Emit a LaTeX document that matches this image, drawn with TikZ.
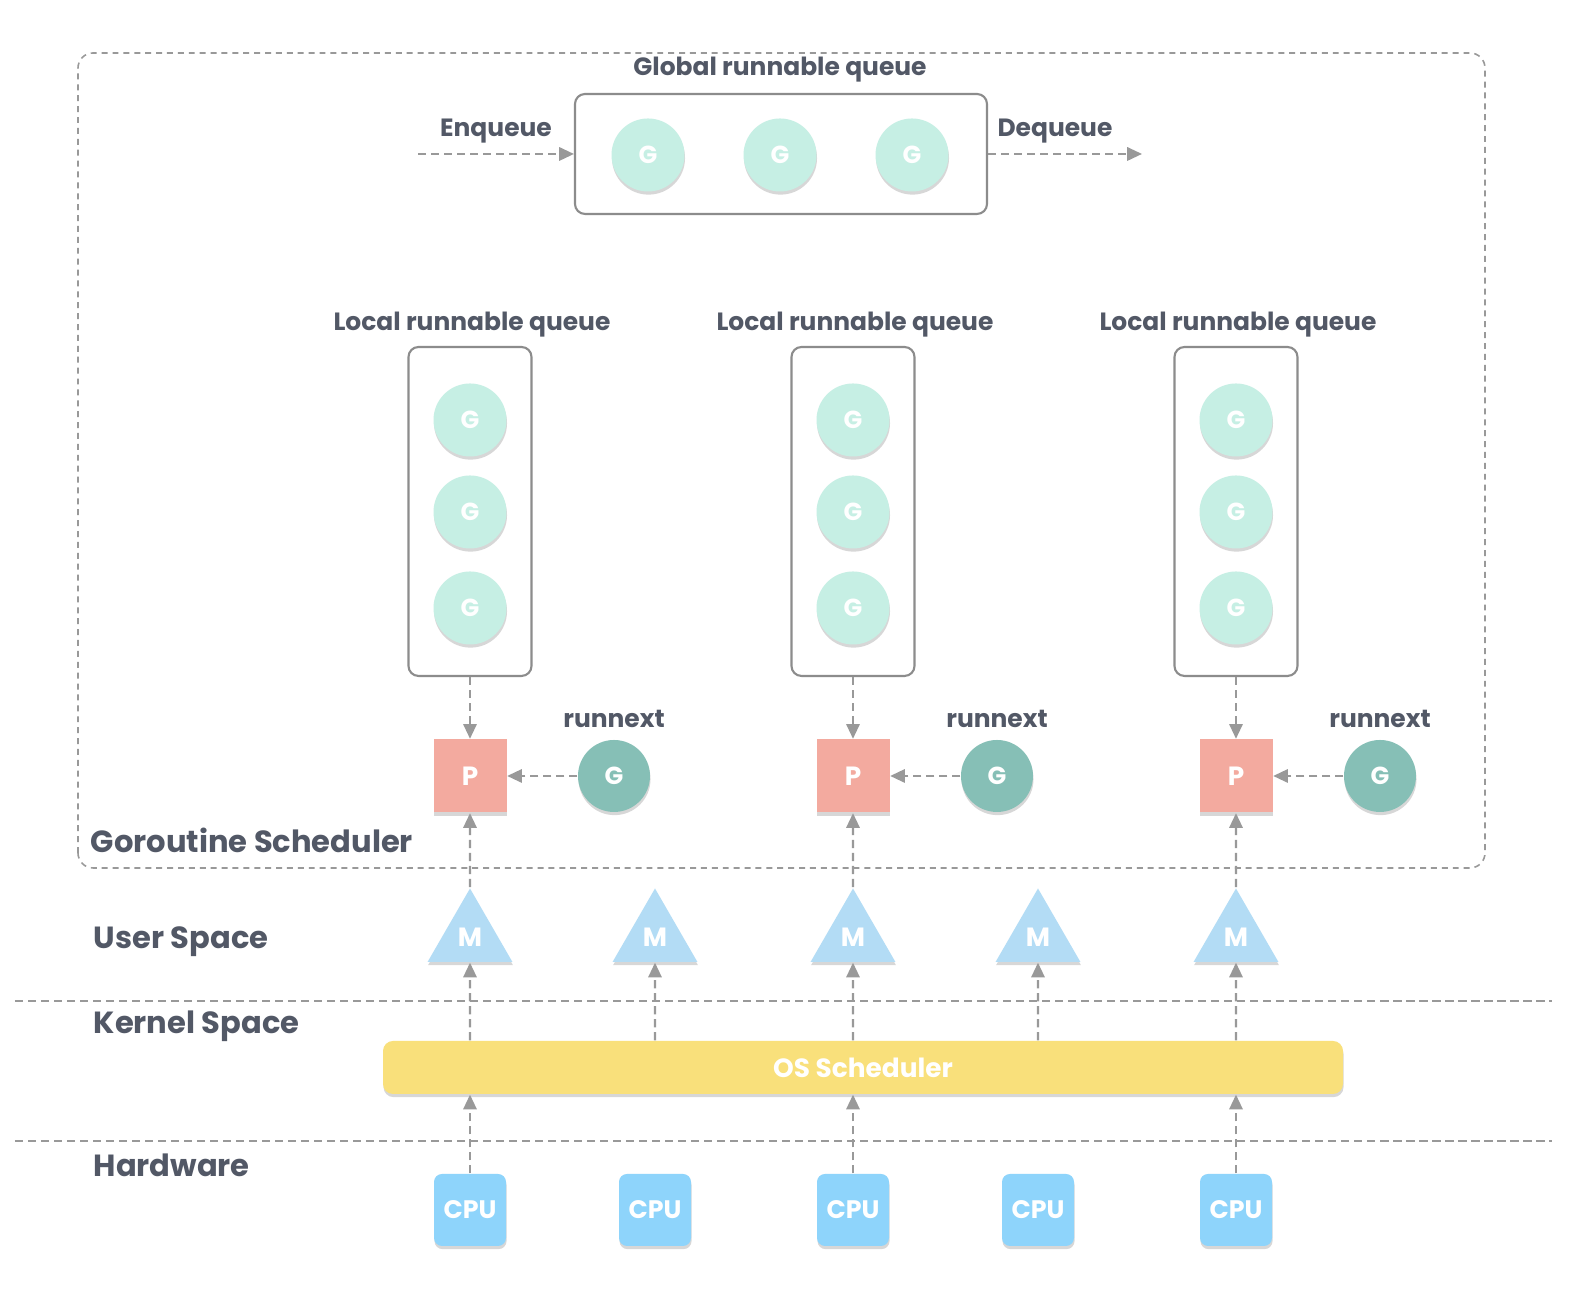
\documentclass[tikz,border=0pt]{standalone}
\usepackage{fontspec}
\setmainfont{Poppins}
\usetikzlibrary{arrows.meta,shapes.geometric,shadows}
\definecolor{txtgray}{HTML}{525866}
\definecolor{linegray}{HTML}{999999}
\definecolor{boxgray}{HTML}{8C8C8C}
\definecolor{mintg}{HTML}{C6EFE4}
\definecolor{tealg}{HTML}{86BFB6}
\definecolor{salmonp}{HTML}{F3AA9F}
\definecolor{bluem}{HTML}{B3DCF5}
\definecolor{yellowos}{HTML}{F9E07B}
\definecolor{bluecpu}{HTML}{8ED4FB}
\tikzset{
	softshadow/.style={drop shadow={shadow xshift=0.15pt, shadow yshift=-0.9pt, opacity=0.22, fill=black!70}},
	gnode/.style={circle, fill=mintg, minimum size=0.73cm, inner sep=0pt, text=white, font=\bfseries\fontsize{7}{7}\selectfont, softshadow},
	rnode/.style={gnode, fill=tealg, minimum size=0.72cm},
	pnode/.style={rectangle, fill=salmonp, minimum size=0.73cm, inner sep=0pt, text=white, font=\bfseries\fontsize{7.5}{7.5}\selectfont, softshadow},
	mnode/.style={regular polygon, regular polygon sides=3, fill=bluem, minimum size=0.98cm, inner sep=0pt, text=white, font=\bfseries\fontsize{7.5}{7.5}\selectfont, softshadow},
	cpunode/.style={rectangle, rounded corners=0.08cm, fill=bluecpu, minimum size=0.72cm, inner sep=0pt, text=white, font=\bfseries\fontsize{7.2}{7.2}\selectfont, softshadow},
	osbar/.style={rectangle, rounded corners=0.1cm, fill=yellowos, minimum width=9.60cm, minimum height=0.53cm, inner sep=0pt, text=white, font=\bfseries\fontsize{7.5}{7.5}\selectfont, softshadow},
	queuebox/.style={rectangle, rounded corners=0.1cm, draw=boxgray, line width=0.6pt, inner sep=0pt},
	title/.style={text=txtgray, font=\bfseries\fontsize{7.1}{7.1}\selectfont, inner sep=0pt},
	side/.style={text=txtgray, font=\bfseries\fontsize{8.7}{8.7}\selectfont, inner sep=0pt, anchor=west},
	flow/.style={draw=linegray, line width=0.6pt, dash pattern=on 2.3pt off 1.4pt, -{Triangle[length=4.2pt, width=3.8pt, fill=linegray]}},
	sep/.style={draw=linegray, line width=0.6pt, dash pattern=on 2.3pt off 1.4pt},
	outer/.style={draw=linegray, line width=0.45pt, dash pattern=on 1.7pt off 1.4pt, rounded corners=0.15cm}
}

\begin{document}
\begin{tikzpicture}
			%%%%% START %%%%%
			\useasboundingbox (0, 0) rectangle (15.92, 12.94);
			\fill[white] (0, 0) rectangle (15.92, 12.94);
			
			\draw[outer] (0.78, 4.26) rectangle (14.85, 12.41);
			\draw[sep] (0.15, 2.93) -- (15.52, 2.93);
			\draw[sep] (0.15, 1.53) -- (15.52, 1.53);
			
			% global queue
			\node[title] (gqlabel) at (7.80, 12.24) {Global runnable queue};
			\node[queuebox, minimum width=4.12cm, minimum height=1.20cm] (gq) at (7.81, 11.40) {};
			\node[gnode] (gg1) at (6.48, 11.39) {G};
			\node[gnode] (gg2) at (7.80, 11.39) {G};
			\node[gnode] (gg3) at (9.12, 11.39) {G};
			
			\node[title] (enqlabel) at (4.96, 11.63) {Enqueue};
			\coordinate (enq) at (4.18, 11.40);
			\draw[flow] (enq) -- (gq.west);
			\node[title] (deqlabel) at (10.55, 11.63) {Dequeue};
			\coordinate (deq) at (11.42, 11.40);
			\draw[flow] (gq.east) -- (deq);
			
			% local queues
			\node[title] (lqlabel1) at (4.72, 9.69) {Local runnable queue};
			\node[queuebox, minimum width=1.23cm, minimum height=3.29cm] (lq1) at (4.70, 7.825) {};
			\node[gnode] (lg11) at (4.70, 8.74) {G};
			\node[gnode] (lg12) at (4.70, 7.82) {G};
			\node[gnode] (lg13) at (4.70, 6.86) {G};
			
			\node[title] (lqlabel2) at (8.55, 9.69) {Local runnable queue};
			\node[queuebox, minimum width=1.23cm, minimum height=3.29cm] (lq2) at (8.53, 7.825) {};
			\node[gnode] (lg21) at (8.53, 8.74) {G};
			\node[gnode] (lg22) at (8.53, 7.82) {G};
			\node[gnode] (lg23) at (8.53, 6.86) {G};
			
			\node[title] (lqlabel3) at (12.38, 9.69) {Local runnable queue};
			\node[queuebox, minimum width=1.23cm, minimum height=3.29cm] (lq3) at (12.36, 7.825) {};
			\node[gnode] (lg31) at (12.36, 8.74) {G};
			\node[gnode] (lg32) at (12.36, 7.82) {G};
			\node[gnode] (lg33) at (12.36, 6.86) {G};
			
			% processors and runnext
			\node[pnode] (p1) at (4.70, 5.18) {P};
			\node[rnode] (rn1) at (6.14, 5.18) {G};
			\node[title] (rnlabel1) at (6.14, 5.75) {runnext};
			\draw[flow] (lq1.south) -- (p1.north);
			\draw[flow] (rn1.west) -- (p1.east);
			
			\node[pnode] (p2) at (8.53, 5.18) {P};
			\node[rnode] (rn2) at (9.97, 5.18) {G};
			\node[title] (rnlabel2) at (9.97, 5.75) {runnext};
			\draw[flow] (lq2.south) -- (p2.north);
			\draw[flow] (rn2.west) -- (p2.east);
			
			\node[pnode] (p3) at (12.36, 5.18) {P};
			\node[rnode] (rn3) at (13.80, 5.18) {G};
			\node[title] (rnlabel3) at (13.80, 5.75) {runnext};
			\draw[flow] (lq3.south) -- (p3.north);
			\draw[flow] (rn3.west) -- (p3.east);
			
			\node[side] (gslabel) at (0.90, 4.54) {Goroutine Scheduler};
			
			% threads
			\node[mnode] (m1) at (4.70, 3.565) {M};
			\node[mnode] (m2) at (6.55, 3.565) {M};
			\node[mnode] (m3) at (8.53, 3.565) {M};
			\node[mnode] (m4) at (10.38, 3.565) {M};
			\node[mnode] (m5) at (12.36, 3.565) {M};
			\draw[flow] (m1.north) -- (p1.south);
			\draw[flow] (m3.north) -- (p2.south);
			\draw[flow] (m5.north) -- (p3.south);
			
			\node[side] (uslabel) at (0.93, 3.52) {User Space};
			\node[side] (kslabel) at (0.93, 2.68) {Kernel Space};
			\node[side] (hwlabel) at (0.93, 1.29) {Hardware};
			
			% os scheduler
			\node[osbar] (os) at (8.63, 2.265) {OS Scheduler};
			\draw[flow] (m1 |- os.north) -- (m1.south);
			\draw[flow] (m2 |- os.north) -- (m2.south);
			\draw[flow] (m3 |- os.north) -- (m3.south);
			\draw[flow] (m4 |- os.north) -- (m4.south);
			\draw[flow] (m5 |- os.north) -- (m5.south);
			
			% hardware
			\node[cpunode] (cpu1) at (4.70, 0.84) {CPU};
			\node[cpunode] (cpu2) at (6.55, 0.84) {CPU};
			\node[cpunode] (cpu3) at (8.53, 0.84) {CPU};
			\node[cpunode] (cpu4) at (10.38, 0.84) {CPU};
			\node[cpunode] (cpu5) at (12.36, 0.84) {CPU};
			\draw[flow] (cpu1.north) -- (cpu1 |- os.south);
			\draw[flow] (cpu3.north) -- (cpu3 |- os.south);
			\draw[flow] (cpu5.north) -- (cpu5 |- os.south);
			
			%%%%% END %%%%%
\end{tikzpicture}
\end{document}
